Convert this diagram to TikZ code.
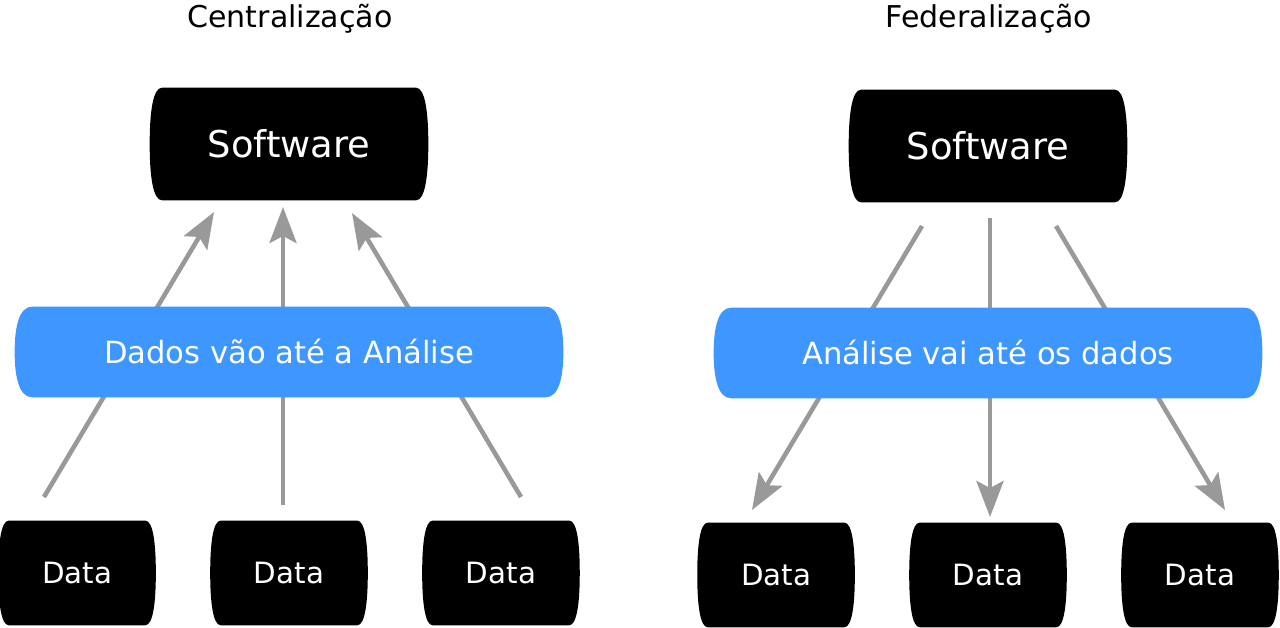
\documentclass[tikz,border=0pt]{standalone}
\usepackage{fontspec}
\setmainfont{DejaVu Sans}
\usetikzlibrary{arrows.meta}

\definecolor{barblue}{RGB}{62,150,255}
\definecolor{arrowgray}{RGB}{153,153,153}

% box with round sides that bulge a little
\makeatletter
\newdimen\brlxa \newdimen\brlxb \newdimen\brlya \newdimen\brlyb
\newdimen\brlym \newdimen\brlh
\tikzset{barrel side/.store in=\brlw, barrel side=6pt}
\pgfdeclareshape{barrel}{
  \inheritsavedanchors[from=rectangle]
  \inheritanchorborder[from=rectangle]
  \inheritanchor[from=rectangle]{center}
  \inheritanchor[from=rectangle]{north}
  \inheritanchor[from=rectangle]{south}
  \inheritanchor[from=rectangle]{east}
  \inheritanchor[from=rectangle]{west}
  \inheritanchor[from=rectangle]{north east}
  \inheritanchor[from=rectangle]{north west}
  \inheritanchor[from=rectangle]{south east}
  \inheritanchor[from=rectangle]{south west}
  \inheritanchor[from=rectangle]{base}
  \inheritanchor[from=rectangle]{mid}
  \backgroundpath{
    \southwest \brlxa=\pgf@x \brlya=\pgf@y
    \northeast \brlxb=\pgf@x \brlyb=\pgf@y
    \brlym=.5\brlya \advance\brlym by .5\brlyb
    \brlh=.5\brlyb \advance\brlh by -.5\brlya
    \pgfpathmoveto{\pgfpoint{\brlxa+\brlw}{\brlyb}}
    \pgfpathlineto{\pgfpoint{\brlxb-\brlw}{\brlyb}}
    \pgfpathcurveto{\pgfpoint{\brlxb-0.25*\brlw}{\brlyb}}
      {\pgfpoint{\brlxb}{\brlym+0.55*\brlh}}{\pgfpoint{\brlxb}{\brlym}}
    \pgfpathcurveto{\pgfpoint{\brlxb}{\brlym-0.55*\brlh}}
      {\pgfpoint{\brlxb-0.25*\brlw}{\brlya}}{\pgfpoint{\brlxb-\brlw}{\brlya}}
    \pgfpathlineto{\pgfpoint{\brlxa+\brlw}{\brlya}}
    \pgfpathcurveto{\pgfpoint{\brlxa+0.25*\brlw}{\brlya}}
      {\pgfpoint{\brlxa}{\brlym-0.55*\brlh}}{\pgfpoint{\brlxa}{\brlym}}
    \pgfpathcurveto{\pgfpoint{\brlxa}{\brlym+0.55*\brlh}}
      {\pgfpoint{\brlxa+0.25*\brlw}{\brlyb}}{\pgfpoint{\brlxa+\brlw}{\brlyb}}
    \pgfpathclose
  }
}
\makeatother

\tikzstyle{title} = [anchor=base, font=\fontsize{17.1}{20}\selectfont]
\tikzstyle{software} = [barrel, barrel side=7pt, fill=black, text=white,
    minimum width=158.2pt, minimum height=63.7pt, font=\fontsize{21}{25}\selectfont]
\tikzstyle{data} = [barrel, barrel side=6pt, fill=black, text=white,
    minimum width=89.3pt, minimum height=59.2pt, font=\fontsize{16.7}{20}\selectfont]
\tikzstyle{flow} = [barrel, barrel side=10pt, fill=barblue, text=white,
    minimum width=311.9pt, minimum height=51.2pt, font=\fontsize{17.4}{21}\selectfont]
\tikzstyle{link} = [draw=arrowgray, line width=2.6pt,
    -{Stealth[length=20.5pt, width=15.4pt, inset=4pt]}]

\begin{document}
\begin{tikzpicture}[x=0.02cm, y=-0.02cm]
  \useasboundingbox (0,0) rectangle (1280,627);

  % Centralizacao
  \node (t1) [title] at (290,27) {Centralização};
  \node (sw1) [software] at (289,144) {Software};
  \node (d2) [data, below of=sw1, node distance=8.58cm] {Data};
  \node (d1) [data, left of=d2, node distance=4.24cm] {Data};
  \node (d3) [data, right of=d2, node distance=4.24cm] {Data};

  \coordinate (a1s) at (44,497);  \coordinate (a1e) at (214,212);
  \coordinate (a2s) at (283,505); \coordinate (a2e) at (283,207);
  \coordinate (a3s) at (521,497); \coordinate (a3e) at (352,213);
  \draw [link] (a1s) -- (a1e);
  \draw [link] (a2s) -- (a2e);
  \draw [link] (a3s) -- (a3e);

  \node (f1) [flow, below of=sw1, node distance=4.16cm] {Dados vão até a Análise};

  % Federalizacao
  \node (t2) [title] at (989,27) {Federalização};
  \node (sw2) [software] at (988,146) {Software};
  \node (d5) [data, below of=sw2, node distance=8.58cm] {Data};
  \node (d4) [data, left of=d5, node distance=4.24cm] {Data};
  \node (d6) [data, right of=d5, node distance=4.24cm] {Data};

  \coordinate (b1s) at (922,226);  \coordinate (b1e) at (752,510);
  \coordinate (b2s) at (990,218);  \coordinate (b2e) at (990,517);
  \coordinate (b3s) at (1056,226); \coordinate (b3e) at (1225,510);
  \draw [link] (b1s) -- (b1e);
  \draw [link] (b2s) -- (b2e);
  \draw [link] (b3s) -- (b3e);

  \node (f2) [flow, below of=sw2, node distance=4.14cm] {Análise vai até os dados};
\end{tikzpicture}
\end{document}
